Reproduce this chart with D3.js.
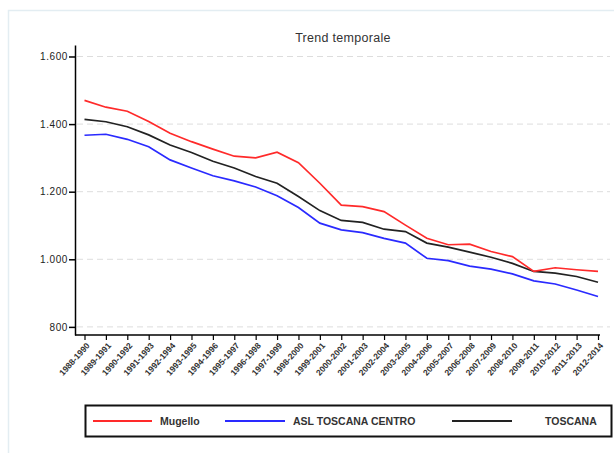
<!DOCTYPE html>
<html><head><meta charset="utf-8">
<script src="https://cdn.jsdelivr.net/npm/d3@7"></script>
<style>body{margin:0;background:#fff;} text{font-family:"Liberation Sans",Arial,sans-serif;}</style>
</head><body>
<svg id="c" width="614" height="453"></svg>
<script>
const categories = ["1988-1990","1989-1991","1990-1992","1991-1993","1992-1994","1993-1995","1994-1996","1995-1997","1996-1998","1997-1999","1998-2000","1999-2001","2000-2002","2001-2003","2002-2004","2003-2005","2004-2006","2005-2007","2006-2008","2007-2009","2008-2010","2009-2011","2010-2012","2011-2013","2012-2014"];
const mugello = [1470,1450,1438,1408,1373,1348,1326,1305,1300,1317,1286,1225,1160,1156,1141,1101,1062,1043,1045,1023,1008,964,975,969,964];
const aslToscanaCentro = [1367,1370,1355,1333,1294,1270,1247,1232,1214,1188,1153,1107,1087,1079,1062,1048,1003,996,980,971,957,936,927,909,890];
const toscana = [1414,1407,1392,1368,1338,1316,1290,1270,1245,1225,1186,1144,1115,1109,1089,1082,1048,1036,1021,1006,988,964,959,949,932];
const yTicks = [800,1000,1200,1400,1600];
const yTickLabels = ["800","1.000","1.200","1.400","1.600"];
const seriesNames = ["Mugello","ASL TOSCANA CENTRO","TOSCANA"];
const seriesColors = ["#ff2a2a","#2a2aff","#222222"];

const svg = d3.select("#c");
svg.append("rect").attr("x",8.5).attr("y",10.5).attr("width",640).attr("height",460)
  .attr("fill","none").attr("stroke","#e3edf2").attr("stroke-width",1.5);

const x = d3.scalePoint().domain(categories).range([84.5,598]);
const y = d3.scaleLinear().domain([776,1634]).range([335,45]);

svg.append("text").attr("x",343).attr("y",42).attr("text-anchor","middle")
  .attr("font-size",12.5).attr("fill","#333").style("letter-spacing","0.3px").text("Trend temporale");

svg.append("g").selectAll("line").data(yTicks).join("line")
  .attr("x1",77).attr("x2",610).attr("y1",d=>y(d)).attr("y2",d=>y(d))
  .attr("stroke","#dddddd").attr("stroke-width",1).attr("stroke-dasharray","6,4");

const yAxis = d3.axisLeft(y).tickValues(yTicks).tickSize(6).tickSizeOuter(0)
  .tickFormat((d,i)=>yTickLabels[i]);
const gy = svg.append("g").attr("transform","translate(75,0)").call(yAxis);
gy.select(".domain").attr("stroke","#000").attr("stroke-width",1.5);
gy.selectAll(".tick line").attr("stroke","#000").attr("stroke-width",1.5);
gy.selectAll(".tick text").attr("font-size",10).attr("fill","#222").attr("x",-7)
  .style("letter-spacing","0.6px")
  .style("font-family","'Liberation Sans',Arial,sans-serif");

const xAxis = d3.axisBottom(x).tickSize(5).tickSizeOuter(0);
const gx = svg.append("g").attr("transform","translate(0,335)").call(xAxis);
gx.select(".domain").attr("d","M75,0H600").attr("stroke","#000").attr("stroke-width",1.5);
gx.selectAll(".tick line").attr("stroke","#000").attr("stroke-width",1.2);
gx.selectAll(".tick text").attr("font-size",8.5).attr("font-weight","bold").attr("fill","#333")
  .attr("text-anchor","end").attr("dy","0.35em").attr("y",0)
  .attr("transform","translate(3,9) rotate(-48)")
  .style("font-family","'Liberation Sans',Arial,sans-serif");

const data = [mugello, aslToscanaCentro, toscana];
const line = d3.line().x((d,i)=>x(categories[i])).y(d=>y(d));
[2,1,0].forEach(k=>{
  svg.append("path").datum(data[k]).attr("d",line).attr("fill","none")
    .attr("stroke",seriesColors[k]).attr("stroke-width",1.7);
});

const lg = svg.append("g");
lg.append("rect").attr("x",85.5).attr("y",405.5).attr("width",526).attr("height",31)
  .attr("fill","#fff").attr("stroke","#111").attr("stroke-width",2);
const legendPos = [[93,152,160],[225,285,293],[452,512,545]];
seriesNames.forEach((n,k)=>{
  const [a,b,t] = legendPos[k];
  lg.append("line").attr("x1",a).attr("x2",b).attr("y1",421).attr("y2",421)
    .attr("stroke",seriesColors[k]).attr("stroke-width",2);
  lg.append("text").attr("x",t).attr("y",425).attr("font-size",10.5).attr("font-weight","bold")
    .attr("fill","#333").text(n);
});
</script>
</body></html>
